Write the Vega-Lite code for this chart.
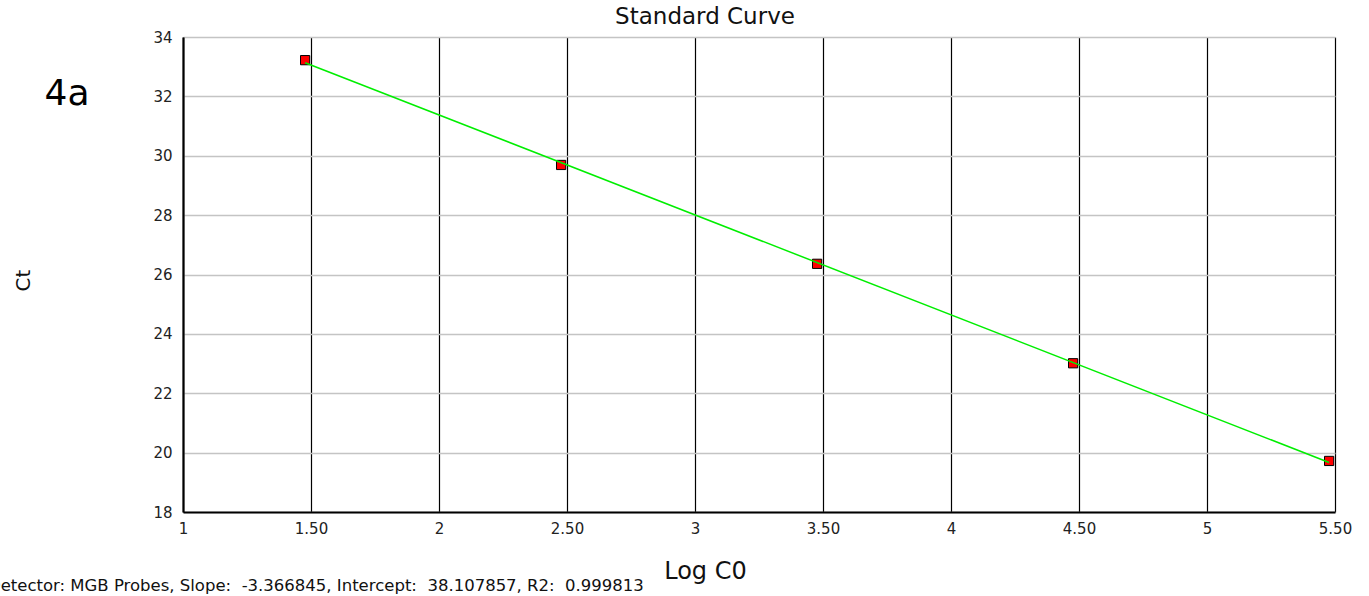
{
  "$schema": "https://vega.github.io/schema/vega-lite/v6.json",
  "width": 1152,
  "height": 475,
  "autosize": {"type": "none"},
  "padding": {"left": 183, "top": 37, "right": 34, "bottom": 84},
  "background": "white",
  "title": {
    "text": "Standard Curve",
    "anchor": "middle",
    "dx": -54,
    "offset": 1,
    "font": "DejaVu Sans",
    "fontSize": 23,
    "fontWeight": "normal",
    "color": "#111111"
  },
  "config": {
    "view": {"stroke": null},
    "axis": {
      "labelFont": "DejaVu Sans",
      "labelFontSize": 15,
      "labelColor": "#222222",
      "titleFont": "DejaVu Sans",
      "titleFontWeight": "normal",
      "titleColor": "#111111",
      "ticks": false,
      "tickSize": 0,
      "domainColor": "#000000",
      "domainWidth": 2.2
    }
  },
  "datasets": {
    "points": [
      {"logC0": 1.477, "ct": 33.22},
      {"logC0": 2.477, "ct": 29.69},
      {"logC0": 3.477, "ct": 26.36},
      {"logC0": 4.477, "ct": 23.01},
      {"logC0": 5.477, "ct": 19.72}
    ],
    "fit": [
      {"logC0": 1.477, "ct": 33.135},
      {"logC0": 5.477, "ct": 19.668}
    ],
    "notes": [
      {"label": "4a"}
    ],
    "footer": [
      {"label": "Detector: MGB Probes, Slope:\u00a0 -3.366845, Intercept:\u00a0 38.107857, R2:\u00a0 0.999813"}
    ]
  },
  "layer": [
    {
      "data": {"name": "points"},
      "mark": {"type": "point", "shape": "square", "filled": true, "fill": "#ff0000", "stroke": "#000000", "strokeWidth": 1, "size": 85, "opacity": 1},
      "encoding": {
        "x": {
          "field": "logC0",
          "type": "quantitative",
          "scale": {"domain": [1, 5.5], "nice": false, "zero": false},
          "axis": {
            "title": "Log C0",
            "titleFontSize": 24,
            "titleX": 522,
            "titleY": 66,
            "titleAlign": "center",
            "titleBaseline": "alphabetic",
            "values": [1, 1.5, 2, 2.5, 3, 3.5, 4, 4.5, 5, 5.5],
            "labelExpr": "datum.value % 1 == 0 ? format(datum.value, 'd') : format(datum.value, '.2f')",
            "labelPadding": 9,
            "labelFlush": false,
            "labelOverlap": false,
            "grid": true,
            "gridColor": "#000000",
            "gridWidth": 1.2,
            "gridOpacity": 1
          }
        },
        "y": {
          "field": "ct",
          "type": "quantitative",
          "scale": {"domain": [18, 34], "nice": false, "zero": false},
          "axis": {
            "title": "Ct",
            "titleFontSize": 20,
            "titleAngle": -90,
            "titleX": -160,
            "titleY": 243,
            "titleAlign": "center",
            "titleBaseline": "middle",
            "values": [18, 20, 22, 24, 26, 28, 30, 32, 34],
            "labelPadding": 11,
            "grid": true,
            "gridColor": "#c4c4c4",
            "gridWidth": 1.5,
            "gridOpacity": 1
          }
        }
      }
    },
    {
      "data": {"name": "fit"},
      "mark": {"type": "line", "color": "#00ee00", "strokeWidth": 1.5},
      "encoding": {
        "x": {"field": "logC0", "type": "quantitative", "scale": {"domain": [1, 5.5], "nice": false, "zero": false}},
        "y": {"field": "ct", "type": "quantitative", "scale": {"domain": [18, 34], "nice": false, "zero": false}}
      }
    },
    {
      "data": {"name": "notes"},
      "mark": {"type": "text", "font": "DejaVu Sans", "fontSize": 36, "align": "center", "baseline": "alphabetic", "color": "#000000"},
      "encoding": {
        "x": {"datum": 0.547, "type": "quantitative", "scale": {"domain": [1, 5.5], "nice": false, "zero": false}},
        "y": {"datum": 31.71, "type": "quantitative", "scale": {"domain": [18, 34], "nice": false, "zero": false}},
        "text": {"field": "label"}
      }
    },
    {
      "data": {"name": "footer"},
      "mark": {"type": "text", "font": "DejaVu Sans", "fontSize": 16.5, "align": "left", "baseline": "alphabetic", "color": "#111111"},
      "encoding": {
        "x": {"datum": 0.238, "type": "quantitative", "scale": {"domain": [1, 5.5], "nice": false, "zero": false}},
        "y": {"datum": 15.34, "type": "quantitative", "scale": {"domain": [18, 34], "nice": false, "zero": false}},
        "text": {"field": "label"}
      }
    }
  ]
}
